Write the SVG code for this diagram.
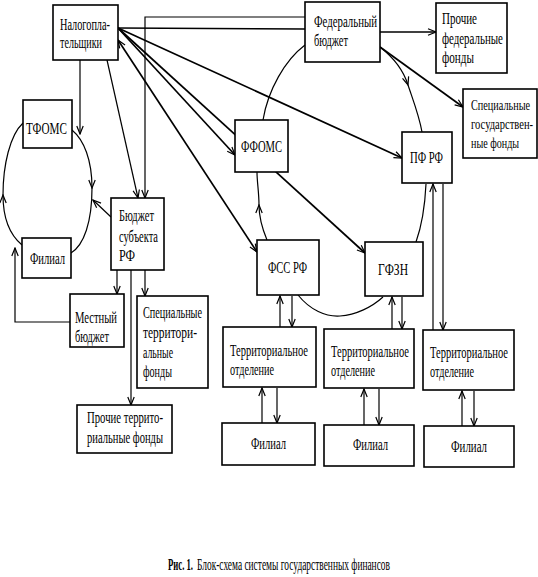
<svg xmlns="http://www.w3.org/2000/svg" width="538" height="577" viewBox="0 0 538 577">
<style>
.box{fill:#fff;stroke:#000;stroke-width:1.6}
.t{font-family:"Liberation Serif","Times New Roman",serif;font-size:17px;fill:#000;transform:scale(0.7,1)}
.s{font-size:15px}
.c{fill:none;stroke:#000;stroke-width:1.2}
.k{fill:none;stroke:#000;stroke-width:1.7}
.a{marker-end:url(#ah)}
.b{marker-start:url(#ah);marker-end:url(#ah)}
.m{marker-mid:url(#ah)}
</style>
<defs>
<marker id="ah" viewBox="-9 -5 10 10" refX="0" refY="0" markerWidth="10" markerHeight="10" markerUnits="userSpaceOnUse" orient="auto-start-reverse">
<path d="M-8,-3.2 L0,0 L-8,3.2" fill="none" stroke="#000" stroke-width="1.2"/>
</marker>
</defs>
<rect width="538" height="577" fill="#fff"/>
<g id="connectors">
<path class="c m" d="M72,130 C84,140 92,160 92,188 C92,222 84,245 71,253"/>
<path class="c m" d="M22,245 C10,235 3,218 3,195 C3,165 10,135 23,123"/>
<path class="c" d="M305,45 C285,60 268,90 263,120"/>
<path class="c m" d="M267,240 C262,228 259,216 259,205 C259,192 257,182 257,172"/>
<path class="c" d="M298,295 C310,310 326,317 340,316 C356,315 372,307 383,297"/>
<path class="c" d="M416,242 C422,225 425,205 426,184"/>
<path class="c m" d="M380,47 C394,58 404,72 408,85 C413,100 419,115 422,132"/>
<path class="k" d="M118,28 L305,29"/>
<path class="c a" d="M305,17 L145,17 L145,198"/>
<path class="k a" d="M118,28 L235,155"/>
<path class="k a" d="M118,28 L365,253"/>
<path class="k a" d="M118,28 L402,158"/>
<path class="k b" d="M118,40 L257,252"/>
<path class="c a" d="M80,60 L80,134"/>
<path class="c a" d="M107,60 L138,198"/>
<path class="c a" d="M111,217 L93,200"/>
<path class="c a" d="M70,322 L15,322 L15,248"/>
<path class="c a" d="M117,270 L117,294"/>
<path class="c a" d="M145,270 L145,296"/>
<path class="c a" d="M131,270 L131,405"/>
<path class="k a" d="M380,32 L436,32"/>
<path class="k a" d="M380,47 L463,107"/>
<path class="c a" d="M280,327 L280,296"/>
<path class="c a" d="M292,296 L292,327"/>
<path class="c a" d="M392,329 L392,297"/>
<path class="c a" d="M402,297 L402,329"/>
<path class="c a" d="M433,330 L433,184"/>
<path class="c a" d="M443,184 L443,330"/>
<path class="c a" d="M262,423 L262,388"/>
<path class="c a" d="M277,388 L277,423"/>
<path class="c a" d="M364,425 L364,389"/>
<path class="c a" d="M379,389 L379,425"/>
<path class="c a" d="M462,426 L462,391"/>
<path class="c a" d="M474,391 L474,426"/>
</g>
<g id="nalog"><rect class="box" x="53" y="5" width="65" height="55"/>
<text class="t" x="85.7" y="30" textLength="71.4" lengthAdjust="spacingAndGlyphs">Налогопла-</text>
<text class="t" x="85.7" y="48" textLength="60" lengthAdjust="spacingAndGlyphs">тельщики</text></g>
<g id="tfoms"><rect class="box" x="23" y="100" width="49" height="48"/>
<text class="t" x="37.1" y="134" textLength="58.6" lengthAdjust="spacingAndGlyphs">ТФОМС</text></g>
<g id="fedbudget"><rect class="box" x="305" y="2" width="75" height="60"/>
<text class="t" x="448.6" y="27" textLength="90" lengthAdjust="spacingAndGlyphs">Федеральный</text>
<text class="t" x="448.6" y="46" textLength="48.6" lengthAdjust="spacingAndGlyphs">бюджет</text></g>
<g id="prochfed"><rect class="box" x="436" y="3" width="71" height="70"/>
<text class="t" x="631.4" y="24" textLength="50" lengthAdjust="spacingAndGlyphs">Прочие</text>
<text class="t" x="631.4" y="44" textLength="87.1" lengthAdjust="spacingAndGlyphs">федеральные</text>
<text class="t" x="631.4" y="63" textLength="45.7" lengthAdjust="spacingAndGlyphs">фонды</text></g>
<g id="specgos"><rect class="box" x="463" y="89" width="74" height="69"/>
<text class="t s" x="672.9" y="110" textLength="84.3" lengthAdjust="spacingAndGlyphs">Специальные</text>
<text class="t s" x="672.9" y="129" textLength="88.6" lengthAdjust="spacingAndGlyphs">государствен-</text>
<text class="t s" x="672.9" y="148" textLength="68.6" lengthAdjust="spacingAndGlyphs">ные фонды</text></g>
<g id="pfrf"><rect class="box" x="402" y="132" width="50" height="51"/>
<text class="t" x="585.7" y="163" textLength="47.1" lengthAdjust="spacingAndGlyphs">ПФ РФ</text></g>
<g id="ffoms"><rect class="box" x="235" y="120" width="53" height="52"/>
<text class="t" x="344.3" y="152" textLength="58.6" lengthAdjust="spacingAndGlyphs">ФФОМС</text></g>
<g id="fssrf"><rect class="box" x="257" y="240" width="62" height="55"/>
<text class="t" x="382.9" y="273" textLength="55.7" lengthAdjust="spacingAndGlyphs">ФСС РФ</text></g>
<g id="gfzn"><rect class="box" x="365" y="242" width="58" height="54"/>
<text class="t" x="540" y="275" textLength="42.9" lengthAdjust="spacingAndGlyphs">ГФЗН</text></g>
<g id="terr1"><rect class="box" x="223" y="327" width="93" height="60"/>
<text class="t" x="328.6" y="356" textLength="111.4" lengthAdjust="spacingAndGlyphs">Территориальное</text>
<text class="t" x="328.6" y="375" textLength="62.9" lengthAdjust="spacingAndGlyphs">отделение</text></g>
<g id="terr2"><rect class="box" x="324" y="329" width="90" height="59"/>
<text class="t" x="472.9" y="357" textLength="111.4" lengthAdjust="spacingAndGlyphs">Территориальное</text>
<text class="t" x="472.9" y="376" textLength="62.9" lengthAdjust="spacingAndGlyphs">отделение</text></g>
<g id="terr3"><rect class="box" x="423" y="330" width="91" height="60"/>
<text class="t" x="614.3" y="358" textLength="111.4" lengthAdjust="spacingAndGlyphs">Территориальное</text>
<text class="t" x="614.3" y="377" textLength="62.9" lengthAdjust="spacingAndGlyphs">отделение</text></g>
<g id="fil1"><rect class="box" x="222" y="423" width="93" height="42"/>
<text class="t" x="358.6" y="449" textLength="50" lengthAdjust="spacingAndGlyphs">Филиал</text></g>
<g id="fil2"><rect class="box" x="324" y="425" width="90" height="41"/>
<text class="t" x="504.3" y="450" textLength="50" lengthAdjust="spacingAndGlyphs">Филиал</text></g>
<g id="fil3"><rect class="box" x="424" y="426" width="90" height="41"/>
<text class="t" x="644.3" y="452" textLength="51.4" lengthAdjust="spacingAndGlyphs">Филиал</text></g>
<g id="budsub"><rect class="box" x="111" y="198" width="53" height="72"/>
<text class="t" x="170" y="221" textLength="50" lengthAdjust="spacingAndGlyphs">Бюджет</text>
<text class="t" x="170" y="242" textLength="55.7" lengthAdjust="spacingAndGlyphs">субъекта</text>
<text class="t" x="170" y="261" textLength="22.9" lengthAdjust="spacingAndGlyphs">РФ</text></g>
<g id="filleft"><rect class="box" x="22" y="238" width="49" height="40"/>
<text class="t" x="42.9" y="264" textLength="50" lengthAdjust="spacingAndGlyphs">Филиал</text></g>
<g id="mestn"><rect class="box" x="70" y="294" width="54" height="53"/>
<text class="t" x="107.1" y="323" textLength="60" lengthAdjust="spacingAndGlyphs">Местный</text>
<text class="t" x="107.1" y="342" textLength="48.6" lengthAdjust="spacingAndGlyphs">бюджет</text></g>
<g id="specterr"><rect class="box" x="137" y="296" width="71" height="92"/>
<text class="t" x="204.3" y="318" textLength="84.3" lengthAdjust="spacingAndGlyphs">Специальные</text>
<text class="t" x="204.3" y="338" textLength="77.1" lengthAdjust="spacingAndGlyphs">территори-</text>
<text class="t" x="204.3" y="358" textLength="42.9" lengthAdjust="spacingAndGlyphs">альные</text>
<text class="t" x="204.3" y="377" textLength="41.4" lengthAdjust="spacingAndGlyphs">фонды</text></g>
<g id="prochterr"><rect class="box" x="77" y="405" width="95" height="48"/>
<text class="t" x="124.3" y="423" textLength="108.6" lengthAdjust="spacingAndGlyphs">Прочие террито-</text>
<text class="t" x="124.3" y="443" textLength="108.6" lengthAdjust="spacingAndGlyphs">риальные фонды</text></g>
<g id="caption">
<text class="t" x="240" y="570" font-weight="bold" textLength="35.7" lengthAdjust="spacingAndGlyphs" style="font-size:16px">Рис. 1.</text>
<text class="t" x="281.4" y="570" textLength="275.7" lengthAdjust="spacingAndGlyphs" style="font-size:16px">Блок-схема системы государственных финансов</text>
</g>
</svg>
